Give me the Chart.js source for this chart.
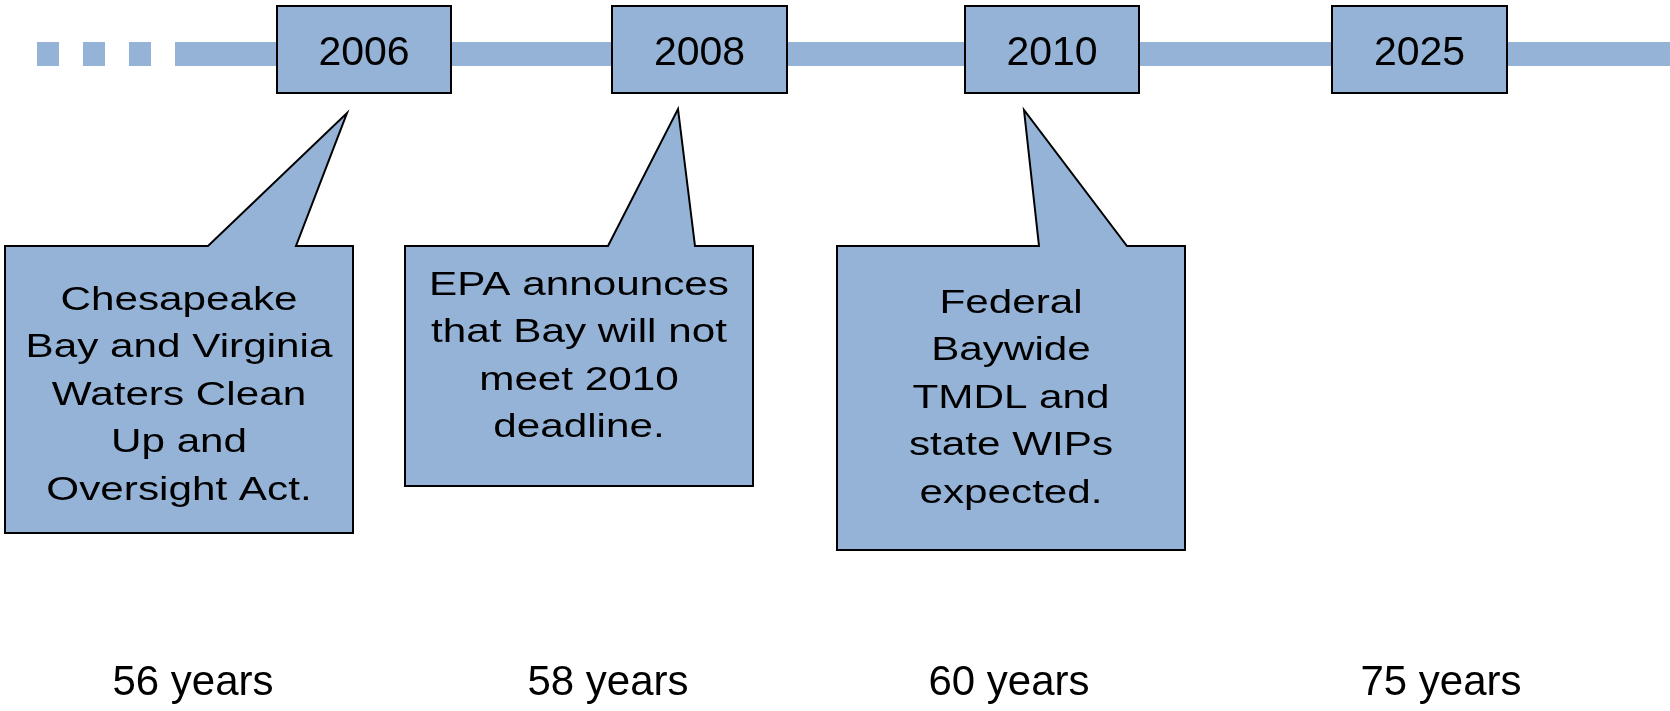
<!DOCTYPE html>
<html>
<head>
<meta charset="utf-8">
<script src="https://cdn.jsdelivr.net/npm/chart.js@4"></script>
<style>
  html, body { margin: 0; padding: 0; background: #ffffff; }
  #wrap { width: 1670px; height: 711px; position: relative; }
</style>
</head>
<body>
<div id="wrap"><canvas id="myChart"></canvas></div>
<script>
// data
const years = ['2006', '2008', '2010', '2025'];
const events = [
    ['Chesapeake', 'Bay and Virginia', 'Waters Clean', 'Up and', 'Oversight Act.'],
    ['EPA announces', 'that Bay will not', 'meet 2010', 'deadline.'],
    ['Federal', 'Baywide', 'TMDL and', 'state WIPs', 'expected.'],
    []
];
const spans = ['56 years', '58 years', '60 years', '75 years'];

// layout (scale units, 1 unit = 1 px of the slide)
const boxLeft = [277, 612, 965, 1332];
const boxRight = [451, 787, 1139, 1507];
const boxTop = 6, boxBottom = 93;
const bandY = 54, bandW = 24;
const callouts = [
    { x0: 5,   x1: 353,  y0: 246, y1: 533, tip: [347, 113], base: [208, 296],   firstLine: 310 },
    { x0: 405, x1: 753,  y0: 246, y1: 486, tip: [678, 109], base: [608, 695],   firstLine: 295 },
    { x0: 837, x1: 1185, y0: 246, y1: 550, tip: [1024, 110], base: [1039, 1127], firstLine: 313 },
    null
];
const spanX = [193, 608, 1009, 1441];
const spanY = 695;

const fill = '#95b3d7';
const font = '"Liberation Sans", Arial, sans-serif';

var timelinePlugin = {
    id: 'timeline',
    afterDatasetsDraw(chart) {
        const ctx = chart.ctx;
        const x = chart.scales.x, y = chart.scales.y;
        const px = v => x.getPixelForValue(v);
        const py = v => y.getPixelForValue(v);
        ctx.save();
        ctx.lineWidth = 2;
        ctx.strokeStyle = '#000';
        ctx.lineJoin = 'miter';

        // year boxes
        years.forEach((yr, i) => {
            const l = px(boxLeft[i]), r = px(boxRight[i]);
            const t = py(boxTop), b = py(boxBottom);
            ctx.fillStyle = fill;
            ctx.fillRect(l, t, r - l, b - t);
            ctx.strokeRect(l, t, r - l, b - t);
            ctx.fillStyle = '#000';
            ctx.font = '41px ' + font;
            ctx.textAlign = 'center';
            ctx.textBaseline = 'alphabetic';
            ctx.fillText(yr, (l + r) / 2, py(65));
        });

        // callouts
        callouts.forEach((c, i) => {
            if (!c) return;
            ctx.beginPath();
            ctx.moveTo(px(c.x0), py(c.y0));
            ctx.lineTo(px(c.base[0]), py(c.y0));
            ctx.lineTo(px(c.tip[0]), py(c.tip[1]));
            ctx.lineTo(px(c.base[1]), py(c.y0));
            ctx.lineTo(px(c.x1), py(c.y0));
            ctx.lineTo(px(c.x1), py(c.y1));
            ctx.lineTo(px(c.x0), py(c.y1));
            ctx.closePath();
            ctx.fillStyle = fill;
            ctx.fill();
            ctx.stroke();

            ctx.fillStyle = '#000';
            ctx.font = '33px ' + font;
            ctx.textAlign = 'center';
            const cx = (px(c.x0) + px(c.x1)) / 2;
            events[i].forEach((line, k) => {
                ctx.save();
                ctx.translate(cx, py(c.firstLine + k * 47.4));
                ctx.scale(1.28, 1); // text is stretched wide in the original
                ctx.fillText(line, 0, 0);
                ctx.restore();
            });
        });

        // durations at the bottom
        ctx.fillStyle = '#000';
        ctx.font = '42px ' + font;
        ctx.textAlign = 'center';
        spans.forEach((s, i) => ctx.fillText(s, px(spanX[i]), py(spanY)));
        ctx.restore();
    }
};

const data = {
    datasets: [
        { // dotted lead-in
            data: [{ x: 37, y: bandY }, { x: 190, y: bandY }],
            borderColor: fill,
            borderWidth: bandW,
            borderDash: [22, 24],
            borderCapStyle: 'butt',
            pointRadius: 0
        },
        { // main band
            data: [{ x: 176, y: bandY }, { x: 1670, y: bandY }],
            borderColor: fill,
            borderWidth: bandW,
            borderCapStyle: 'butt',
            pointRadius: 0
        }
    ]
};

const config = {
    type: 'line',
    data,
    options: {
        animation: false,
        responsive: true,
        maintainAspectRatio: false,
        layout: { padding: 0 },
        plugins: { legend: { display: false }, tooltip: { enabled: false } },
        scales: {
            x: { type: 'linear', min: 0, max: 1670, display: false },
            y: { type: 'linear', min: 0, max: 711, reverse: true, display: false }
        }
    },
    plugins: [timelinePlugin]
};

const myChart = new Chart(document.getElementById('myChart').getContext('2d'), config);
</script>
</body>
</html>
